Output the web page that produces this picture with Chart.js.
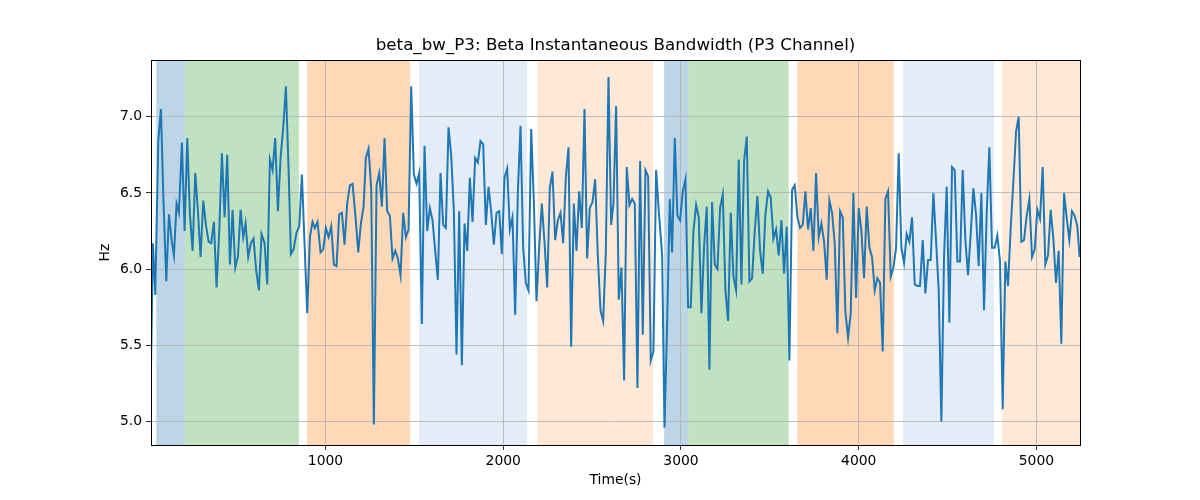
<!DOCTYPE html>
<html>
<head>
<meta charset="utf-8">
<script src="https://cdn.jsdelivr.net/npm/chart.js"></script>
<style>
    body { margin: 0; background: #fff; }
</style>
</head>
<body>
<canvas id="myChart" width="1200" height="500"></canvas>
<script>
// time (s) of each sample
const times = [
    18, 29, 42, 59, 74, 87, 104, 119, 134, 147, 162, 175, 192, 207, 222, 237, 252, 267, 282, 297,
    312, 327, 342, 357, 372, 387, 402, 417, 432, 447, 462, 477, 492, 507, 522, 537, 550, 565, 580, 595,
    610, 625, 640, 657, 672, 687, 702, 717, 732, 747, 762, 777, 792, 805, 820, 837, 852, 867, 897, 912,
    927, 940, 955, 972, 987, 1002, 1017, 1032, 1047, 1062, 1077, 1092, 1107, 1122, 1137, 1152, 1169, 1184, 1199, 1214,
    1227, 1242, 1257, 1272, 1287, 1302, 1317, 1332, 1347, 1362, 1377, 1392, 1407, 1422, 1437, 1452, 1467, 1482, 1497, 1512,
    1527, 1542, 1557, 1572, 1587, 1602, 1617, 1632, 1647, 1662, 1677, 1692, 1707, 1722, 1737, 1752, 1767, 1782, 1797, 1812,
    1827, 1842, 1857, 1872, 1887, 1902, 1917, 1932, 1947, 1962, 1977, 1992, 2007, 2022, 2037, 2052, 2067, 2082, 2097, 2112,
    2127, 2142, 2157, 2172, 2187, 2202, 2217, 2232, 2247, 2262, 2277, 2292, 2307, 2322, 2337, 2352, 2367, 2382, 2397, 2412,
    2427, 2442, 2457, 2472, 2487, 2502, 2517, 2532, 2547, 2562, 2577, 2592, 2607, 2620, 2635, 2650, 2665, 2680, 2695, 2710,
    2725, 2740, 2755, 2770, 2785, 2800, 2815, 2830, 2845, 2860, 2875, 2894, 2907, 2922, 2937, 2950, 2965, 2980, 2995, 3010,
    3025, 3040, 3055, 3070, 3085, 3100, 3115, 3130, 3145, 3160, 3175, 3190, 3205, 3220, 3235, 3250, 3265, 3280, 3295, 3310,
    3325, 3340, 3355, 3370, 3385, 3400, 3415, 3430, 3445, 3460, 3475, 3490, 3505, 3520, 3535, 3550, 3565, 3580, 3595, 3610,
    3625, 3640, 3655, 3670, 3685, 3700, 3715, 3730, 3745, 3760, 3775, 3790, 3805, 3820, 3835, 3850, 3865, 3880, 3895, 3910,
    3925, 3940, 3955, 3970, 3985, 4000, 4015, 4030, 4045, 4060, 4075, 4090, 4105, 4120, 4135, 4150, 4165, 4180, 4195, 4210,
    4225, 4240, 4255, 4270, 4285, 4300, 4315, 4330, 4345, 4360, 4375, 4390, 4405, 4420, 4435, 4450, 4465, 4480, 4495, 4510,
    4525, 4540, 4555, 4570, 4585, 4600, 4615, 4630, 4645, 4660, 4675, 4690, 4705, 4720, 4735, 4750, 4765, 4780, 4795, 4810,
    4825, 4840, 4855, 4870, 4885, 4900, 4915, 4930, 4945, 4960, 4975, 4990, 5005, 5020, 5035, 5050, 5065, 5080, 5095, 5110,
    5125, 5140, 5155, 5170, 5185, 5200, 5215, 5230, 5243
];

// beta instantaneous bandwidth (Hz)
const bandwidth = [
    5.35, 6.17, 5.83, 6.84, 7.05, 6.49, 5.92, 6.36, 6.19, 6.09, 6.43, 6.37, 6.83, 6.25, 6.86, 6.36, 6.12, 6.63, 6.38, 6.08,
    6.45, 6.29, 6.18, 6.17, 6.31, 5.88, 6.25, 6.76, 6.34, 6.75, 6.03, 6.39, 6.01, 6.08, 6.39, 6.21, 6.30, 6.08, 6.17, 6.20,
    5.99, 5.86, 6.23, 6.17, 5.90, 6.72, 6.65, 6.86, 6.38, 6.73, 6.93, 7.20, 6.66, 6.10, 6.13, 6.24, 6.28, 6.62, 5.71, 6.21,
    6.31, 6.27, 6.31, 6.11, 6.13, 6.27, 6.21, 6.28, 6.03, 6.02, 6.36, 6.37, 6.16, 6.43, 6.55, 6.56, 6.34, 6.11, 6.30, 6.41,
    6.73, 6.79, 6.53, 4.98, 6.55, 6.63, 6.41, 6.86, 6.38, 6.35, 6.07, 6.12, 6.07, 5.96, 6.37, 6.21, 6.26, 7.20, 6.62, 6.56,
    6.63, 5.64, 6.81, 6.25, 6.40, 6.32, 6.12, 5.93, 6.63, 6.29, 6.27, 6.93, 6.75, 6.38, 5.44, 6.38, 5.37, 6.30, 6.12, 6.60,
    6.31, 6.73, 6.70, 6.84, 6.82, 6.29, 6.54, 6.38, 6.16, 6.37, 6.38, 6.10, 6.60, 6.66, 6.26, 6.34, 5.70, 6.50, 6.94, 6.14,
    5.91, 5.86, 6.92, 6.45, 5.79, 6.14, 6.43, 6.18, 5.88, 6.53, 6.64, 6.19, 6.32, 6.37, 6.17, 6.60, 6.80, 5.49, 6.43, 6.12,
    6.51, 6.27, 7.05, 6.07, 6.40, 6.44, 6.59, 6.09, 5.73, 5.66, 6.11, 7.26, 6.29, 6.43, 7.07, 5.80, 6.01, 5.27, 6.67, 6.42,
    6.46, 6.43, 5.22, 6.71, 5.57, 6.65, 6.61, 5.40, 5.46, 6.65, 6.38, 6.09, 4.96, 5.64, 6.46, 6.11, 6.86, 6.35, 6.32, 6.51,
    6.59, 5.75, 5.75, 6.25, 6.42, 6.34, 5.71, 6.15, 6.41, 5.34, 6.44, 6.03, 6.00, 6.40, 6.49, 5.86, 5.66, 6.37, 5.95, 5.86,
    6.72, 5.90, 6.71, 6.87, 5.92, 5.94, 6.25, 6.48, 6.12, 5.97, 6.36, 6.51, 6.47, 6.20, 6.26, 6.09, 6.32, 5.97, 6.28, 5.40,
    6.52, 6.55, 6.34, 6.27, 6.29, 6.51, 6.26, 6.40, 6.12, 6.63, 6.21, 6.30, 6.18, 5.93, 6.45, 6.37, 6.17, 5.58, 6.38, 6.34,
    5.72, 5.55, 5.71, 6.50, 5.81, 6.40, 6.25, 5.94, 6.41, 6.14, 6.08, 5.86, 5.94, 5.91, 5.46, 6.46, 6.51, 5.95, 6.01, 6.14,
    6.76, 6.14, 6.04, 6.23, 6.18, 6.34, 5.90, 5.89, 5.89, 6.19, 5.84, 6.06, 6.06, 6.50, 6.19, 5.86, 5.00, 6.08, 6.54, 5.65,
    6.67, 6.65, 6.05, 6.05, 6.65, 6.19, 5.96, 6.23, 6.53, 6.36, 6.02, 6.50, 5.73, 6.37, 6.80, 6.14, 6.14, 6.22, 6.05, 5.08,
    6.05, 5.89, 6.27, 6.57, 6.90, 7.00, 6.18, 6.19, 6.35, 6.46, 6.08, 6.13, 6.39, 6.33, 6.67, 6.03, 6.09, 6.39, 6.20, 5.91,
    6.12, 5.51, 6.50, 6.34, 6.19, 6.38, 6.35, 6.28, 6.08
];

// shaded phases behind the line
const spanStart = [48, 209, 897, 1527, 2191, 2905, 3040, 3655, 4249, 4806];
const spanEnd   = [209, 850, 1475, 2134, 2843, 3040, 3606, 4197, 4761, 5300];
const spanKind  = ['blue', 'green', 'orange', 'lightblue', 'lightorange', 'blue', 'green', 'orange', 'lightblue', 'lightorange'];

// axis ticks
const xTicks = [1000, 2000, 3000, 4000, 5000];
const yTicks = [5.0, 5.5, 6.0, 6.5, 7.0];

const spanColors = {
    blue: 'rgb(188, 214, 232)',
    green: 'rgb(192, 226, 192)',
    orange: 'rgb(255, 216, 183)',
    lightblue: 'rgb(228, 236, 247)',
    lightorange: 'rgb(255, 233, 214)'
};

const FONT = 'DejaVu Sans';

// draw the phase spans under the grid
const spanPlugin = {
    id: 'spans',
    beforeDraw: (chart) => {
        const {ctx, chartArea, scales} = chart;
        ctx.save();
        ctx.beginPath();
        ctx.rect(chartArea.left, chartArea.top, chartArea.width, chartArea.height);
        ctx.clip();
        spanStart.forEach((s, i) => {
            const x0 = scales.x.getPixelForValue(s);
            const x1 = scales.x.getPixelForValue(spanEnd[i]);
            ctx.fillStyle = spanColors[spanKind[i]];
            ctx.fillRect(x0, chartArea.top, x1 - x0, chartArea.height);
        });
        ctx.restore();
    }
};

// black frame on all four sides
const framePlugin = {
    id: 'frame',
    afterDatasetsDraw: (chart) => {
        const {ctx, chartArea} = chart;
        ctx.save();
        ctx.strokeStyle = '#000';
        ctx.lineWidth = 1;
        ctx.strokeRect(Math.round(chartArea.left) + 0.5, Math.round(chartArea.top) + 0.5,
            Math.round(chartArea.width), Math.round(chartArea.height));
        ctx.restore();
    }
};

const points = times.map((t, i) => ({x: t, y: bandwidth[i]}));

const ctx = document.getElementById('myChart').getContext('2d');
const myChart = new Chart(ctx, {
    type: 'line',
    data: {
        datasets: [{
            data: points,
            borderColor: '#1f77b4',
            borderWidth: 2,
            pointRadius: 0,
            tension: 0,
            fill: false
        }]
    },
    plugins: [spanPlugin, framePlugin],
    options: {
        responsive: false,
        devicePixelRatio: 1,
        animation: false,
        layout: {
            padding: {left: 0, right: 120, top: 0, bottom: 0}
        },
        plugins: {
            legend: {display: false},
            tooltip: {enabled: false},
            title: {
                display: true,
                text: 'beta_bw_P3: Beta Instantaneous Bandwidth (P3 Channel)',
                color: '#000',
                fullSize: false,
                font: {family: FONT, size: 16.7, weight: 'normal'},
                padding: {top: 36, bottom: 4}
            }
        },
        scales: {
            x: {
                type: 'linear',
                position: 'bottom',
                min: 18,
                max: 5245,
                afterFit: (s) => { s.height = 55; },
                afterBuildTicks: (s) => { s.ticks = xTicks.map(v => ({value: v})); },
                ticks: {
                    color: '#000',
                    font: {family: FONT, size: 13.9},
                    padding: 3,
                    maxRotation: 0,
                    callback: (v) => String(v)
                },
                grid: {color: '#b0b0b0', lineWidth: 0.8, tickColor: '#000', tickLength: 5},
                border: {display: false},
                title: {
                    display: true,
                    text: 'Time(s)',
                    color: '#000',
                    font: {family: FONT, size: 13.9},
                    padding: {top: 0, bottom: 11}
                }
            },
            y: {
                type: 'linear',
                position: 'left',
                min: 4.846,
                max: 7.372,
                afterFit: (s) => { s.width = 151; },
                afterBuildTicks: (s) => { s.ticks = yTicks.map(v => ({value: v})); },
                ticks: {
                    color: '#000',
                    font: {family: FONT, size: 13.9},
                    padding: 4,
                    callback: (v) => v.toFixed(1)
                },
                grid: {color: '#b0b0b0', lineWidth: 0.8, tickColor: '#000', tickLength: 5},
                border: {display: false},
                title: {
                    display: true,
                    text: 'Hz',
                    color: '#000',
                    font: {family: FONT, size: 13.9},
                    padding: {top: 97, bottom: 0}
                }
            }
        }
    }
});
</script>
</body>
</html>
